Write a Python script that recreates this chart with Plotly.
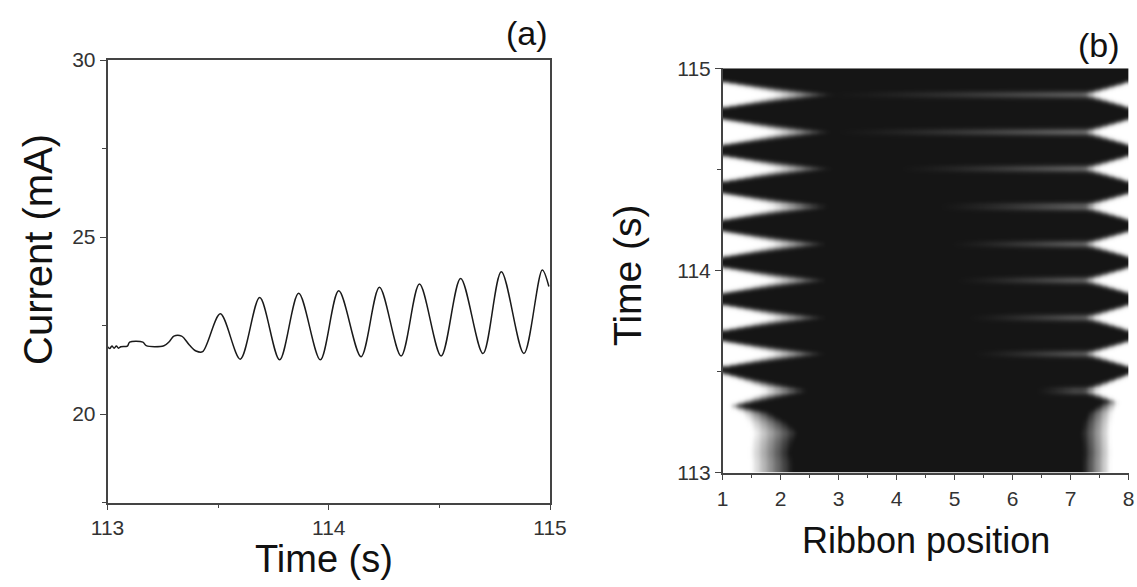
import numpy as np
import plotly.graph_objects as go

# ---------------- Panel (a): current vs time ----------------
time_s = [113.000, 113.010, 113.020, 113.030, 113.040, 113.050, 113.060, 113.090,
          113.100, 113.160, 113.175, 113.255, 113.280, 113.300, 113.335, 113.370,
          113.400, 113.430, 113.510, 113.600, 113.688, 113.778, 113.864, 113.962,
          114.045, 114.146, 114.229, 114.327, 114.410, 114.508, 114.596, 114.697,
          114.780, 114.882, 114.965, 114.995]
current_mA = [21.90, 21.85, 21.92, 21.86, 21.92, 21.86, 21.90, 21.92,
              22.03, 22.03, 21.93, 21.93, 22.05, 22.20, 22.20, 21.95,
              21.78, 21.76, 22.83, 21.55, 23.29, 21.53, 23.41, 21.53,
              23.48, 21.62, 23.58, 21.64, 23.67, 21.64, 23.83, 21.71,
              24.02, 21.71, 24.07, 23.60]

# ---------------- Panel (b): ribbon image parameters ----------------
band_time = [114.870, 114.688, 114.505, 114.318, 114.133, 113.952, 113.770, 113.589, 113.407]
left_depth = [1.95, 1.92, 1.90, 1.88, 1.85, 1.85, 1.80, 1.80, 1.50]
left_halfwidth = [0.064, 0.064, 0.064, 0.064, 0.064, 0.064, 0.064, 0.064, 0.085]
right_depth = [0.95, 0.95, 0.95, 0.95, 0.95, 0.95, 0.92, 0.92, 0.90]
right_halfwidth = [0.064, 0.064, 0.064, 0.064, 0.064, 0.064, 0.064, 0.064, 0.080]
streak_start = [2.8, 2.9, 4.0, 4.7, 4.9, 5.0, 5.2, 5.3, 6.4]
streak_level = [0.40, 0.45, 0.42, 0.42, 0.40, 0.38, 0.35, 0.35, 0.28]

bottom_time = [113.00, 113.05, 113.10, 113.15, 113.20, 113.25, 113.30, 113.35]
bottom_left = [1.20, 1.20, 1.15, 1.20, 1.30, 1.10, 0.80, 0.00]
bottom_right = [0.80, 0.80, 0.78, 0.80, 0.82, 0.78, 0.70, 0.45]

ribbon_pos = np.linspace(1, 8, 176)
frame_time = np.linspace(113, 115, 401)

X, T = np.meshgrid(ribbon_pos, frame_time)
Z = np.zeros_like(X)


def left_white(depth, fade_frac):
    f = np.maximum(fade_frac * depth, 1e-4)[:, None]
    w = np.clip((1 + depth[:, None] - X) / f, 0, 1)
    return w * (depth[:, None] > 0)


def right_white(depth, fade_frac):
    f = np.maximum(fade_frac * depth, 1e-4)[:, None]
    w = np.clip((X - (8 - depth[:, None])) / f, 0, 1)
    return w * (depth[:, None] > 0)


for c, L, wl, R, wr, xs, g in zip(band_time, left_depth, left_halfwidth, right_depth,
                                   right_halfwidth, streak_start, streak_level):
    Lt = L * np.clip(1 - np.abs(frame_time - c) / wl, 0, None)
    Rt = R * np.clip(1 - np.abs(frame_time - c) / wr, 0, None)
    Z = np.maximum(Z, left_white(Lt, 0.5))
    Z = np.maximum(Z, right_white(Rt, 0.35))
    ramp = np.clip((X - xs) / (7.05 - xs), 0, 1) ** 1.3
    streak = g * ramp * np.exp(-((T - c) / 0.013) ** 2)
    Z = np.maximum(Z, streak)

Lb = np.interp(frame_time, bottom_time, bottom_left)
Lb[frame_time > bottom_time[-1]] = 0
Rb = np.interp(frame_time, bottom_time, bottom_right)
Rb[frame_time > bottom_time[-1]] = 0
Z = np.maximum(Z, left_white(Lb, 0.6))
Z = np.maximum(Z, right_white(Rb, 0.6))


def blur(a, sig, axis):
    r = int(3 * sig) + 1
    k = np.exp(-0.5 * (np.arange(-r, r + 1) / sig) ** 2)
    k /= k.sum()
    pad = [(0, 0), (0, 0)]
    pad[axis] = (r, r)
    ap = np.pad(a, pad, mode="edge")
    return np.apply_along_axis(lambda v: np.convolve(v, k, mode="valid"), axis, ap)


Z = blur(Z, 2.0, 0)
Z = blur(Z, 0.7, 1)
Z = np.round(Z, 3)

FONT = "Liberation Sans, Arial, sans-serif"
tickfont = dict(family=FONT, size=21, color="#333333")
axcol = "#444444"

fig = go.Figure()
fig.add_trace(go.Scatter(x=time_s, y=current_mA, mode="lines",
                         line=dict(color="#1a1a1a", width=1.5, shape="spline", smoothing=0.9),
                         xaxis="x", yaxis="y", showlegend=False))
fig.add_trace(go.Heatmap(x=ribbon_pos, y=frame_time, z=Z, zmin=0, zmax=1,
                         colorscale=[[0, "#151515"], [1, "#ffffff"]], showscale=False,
                         zsmooth="best", xaxis="x2", yaxis="y2"))

H = 587.0
W = 1137.0

common = dict(ticks="outside", ticklen=6, tickcolor=axcol, showline=True, linecolor=axcol,
              linewidth=1.5, showgrid=False, zeroline=False, tickfont=tickfont, automargin=False)

fig.update_layout(
    width=1137, height=587, margin=dict(l=0, r=0, t=0, b=0, pad=0, autoexpand=False),
    paper_bgcolor="white", plot_bgcolor="white",
    xaxis=dict(domain=[107.5 / W, 550 / W], range=[113, 115], tickvals=[113, 114, 115],
               mirror=True,
               minor=dict(tickvals=[113.5, 114.5], ticks="outside", ticklen=4, tickcolor=axcol),
               anchor="y", **common),
    yaxis=dict(domain=[(H - 502.5) / H, (H - 60) / H], range=[17.5, 30], tickvals=[20, 25, 30],
               mirror=True,
               minor=dict(tickvals=[17.5, 22.5, 27.5], ticks="outside", ticklen=4, tickcolor=axcol),
               anchor="x", **common),
    xaxis2=dict(domain=[722.7 / W, 1128.5 / W], range=[1, 8], tickvals=[1, 2, 3, 4, 5, 6, 7, 8],
                minor=dict(tickvals=[1.5, 2.5, 3.5, 4.5, 5.5, 6.5, 7.5], ticks="outside",
                           ticklen=4, tickcolor=axcol),
                anchor="y2", **common),
    yaxis2=dict(domain=[(H - 472.7) / H, (H - 68.3) / H], range=[113, 115], tickvals=[113, 114, 115],
                minor=dict(tickvals=[113.5, 114.5], ticks="outside", ticklen=4, tickcolor=axcol),
                anchor="x2", **common),
)

ann = [
    dict(text="Current (mA)", x=38 / W, y=(H - 250) / H, textangle=-90,
         font=dict(family=FONT, size=40, color="#111111")),
    dict(text="Time (s)", x=324 / W, y=(H - 559) / H,
         font=dict(family=FONT, size=38, color="#111111")),
    dict(text="Time (s)", x=627 / W, y=(H - 275) / H, textangle=-90,
         font=dict(family=FONT, size=39, color="#111111")),
    dict(text="Ribbon position", x=926 / W, y=(H - 540) / H,
         font=dict(family=FONT, size=36, color="#111111")),
    dict(text="(a)", x=527 / W, y=(H - 33) / H, font=dict(family=FONT, size=34, color="#111111")),
    dict(text="(b)", x=1099 / W, y=(H - 45) / H, font=dict(family=FONT, size=34, color="#111111")),
]
for a in ann:
    a.update(xref="paper", yref="paper", showarrow=False, xanchor="center", yanchor="middle")
fig.update_layout(annotations=ann)

fig.write_html("out.html")
